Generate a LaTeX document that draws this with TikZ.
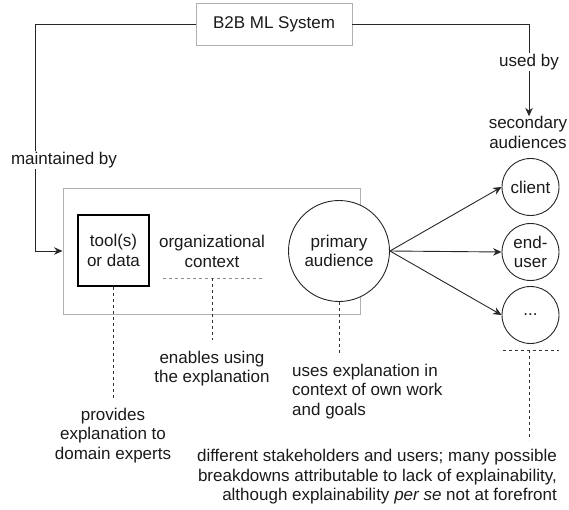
\documentclass[tikz,border=0pt]{standalone}
\usepackage{fontspec}
\setmainfont{Liberation Sans}
\usetikzlibrary{arrows.meta}
\definecolor{boxgray}{HTML}{B0B0B0}
\definecolor{dashgray}{HTML}{8C8C8C}
\definecolor{txt}{HTML}{1A1A1A}
\begin{document}
\begin{tikzpicture}[x=1pt,y=-1pt,
  every node/.style={font=\fontsize{17}{19.5}\selectfont, text=txt, inner sep=0pt},
  conn/.style={line width=0.9pt, draw=black!85},
  arr/.style={conn, -{Stealth[length=8.5pt,width=7.5pt]}},
  dsh/.style={line width=0.9pt, draw=black!80, dash pattern=on 3pt off 3pt},
  graydsh/.style={line width=0.9pt, draw=dashgray, dash pattern=on 3pt off 3pt},
  sysbox/.style={draw=boxgray, line width=0.9pt, fill=white, minimum width=156pt, minimum height=42.4pt},
  ctxbox/.style={draw=boxgray, line width=0.9pt, minimum width=297pt, minimum height=126pt},
  toolbox/.style={draw=black, line width=1.2pt, minimum width=71pt, minimum height=71pt, align=center},
  bigcirc/.style={circle, draw=black!85, line width=0.9pt, fill=white, minimum size=101pt, align=center},
  smallcirc/.style={circle, draw=black!85, line width=0.9pt, fill=white, minimum size=57pt, align=center},
  lbl/.style={fill=white, inner sep=1pt},
  txtc/.style={align=center}
]
\useasboundingbox (0,0) rectangle (569,510);

% top system box
\node[sysbox] (sys) at (274,24.5) {B2B ML System};

% context rectangle
\node[ctxbox] (ctx) at (211.5,251) {};

% tool box
\node[toolbox] (tool) at (113.5,250.5) {tool(s)\\or data};

% organizational context
\node[txtc] (org) at (212,251.5) {organizational\\context};
\coordinate (orgL) at (163,278);
\coordinate (orgR) at (262,278);
\coordinate (orgM) at (212,278);
\coordinate (orgE) at (212,340);
\draw[graydsh] (orgL) -- (orgR);
\draw[dsh] (orgM) -- (orgE);

% primary audience
\node[bigcirc] (pa) at (339,251) {primary\\audience};

% secondary audiences
\node[smallcirc] (client) at (530.5,187) {client};
\node[smallcirc] (enduser) at (530.5,252) {end-\\user};
\node[smallcirc] (more) at (530.5,315) {...};

\draw[arr] (pa.east) -- (client.west);
\draw[arr] (pa.east) -- (enduser.west);
\draw[arr] (pa.east) -- (more.west);

% top connectors
\coordinate (lc) at (35.5,24.5);
\draw[arr] (sys.west) -- (lc) |- (ctx.west);
\node[lbl] (maint) at (64,160) {maintained by};

\node[txtc] (sec) at (528,132.5) {secondary\\audiences};
\coordinate (rc) at (529,24.5);
\draw[arr] (sys.east) -- (rc) -- (rc |- sec.north);
\node[lbl] (used) at (529,62) {used by};

% tool dashed and label
\coordinate (toolE) at (113.5,398);
\draw[dsh] (tool.south) -- (toolE);
\node[txtc] (prov) at (113,435.5) {provides\\explanation to\\domain experts};

% enables label
\node[txtc] (enab) at (212,368.5) {enables using\\the explanation};

% primary dashed and label
\coordinate (paE) at (339,355);
\draw[dsh] (pa.south) -- (paE);
\node[align=left, anchor=west] (uses) at (292,391.5) {uses explanation in\\context of own work\\and goals};

% secondary dashed and label
\coordinate (secL) at (503,350);
\coordinate (secR) at (559,350);
\coordinate (secM) at (529,350);
\coordinate (secE) at (529,440);
\draw[dsh] (secL) -- (secR);
\draw[dsh] (secM) -- (secE);
\node[align=right, anchor=east] (diff) at (557,477) {different stakeholders and users; many possible\\breakdowns attributable to lack of explainability,\\although explainability \textit{per se} not at forefront};
\end{tikzpicture}
\end{document}
